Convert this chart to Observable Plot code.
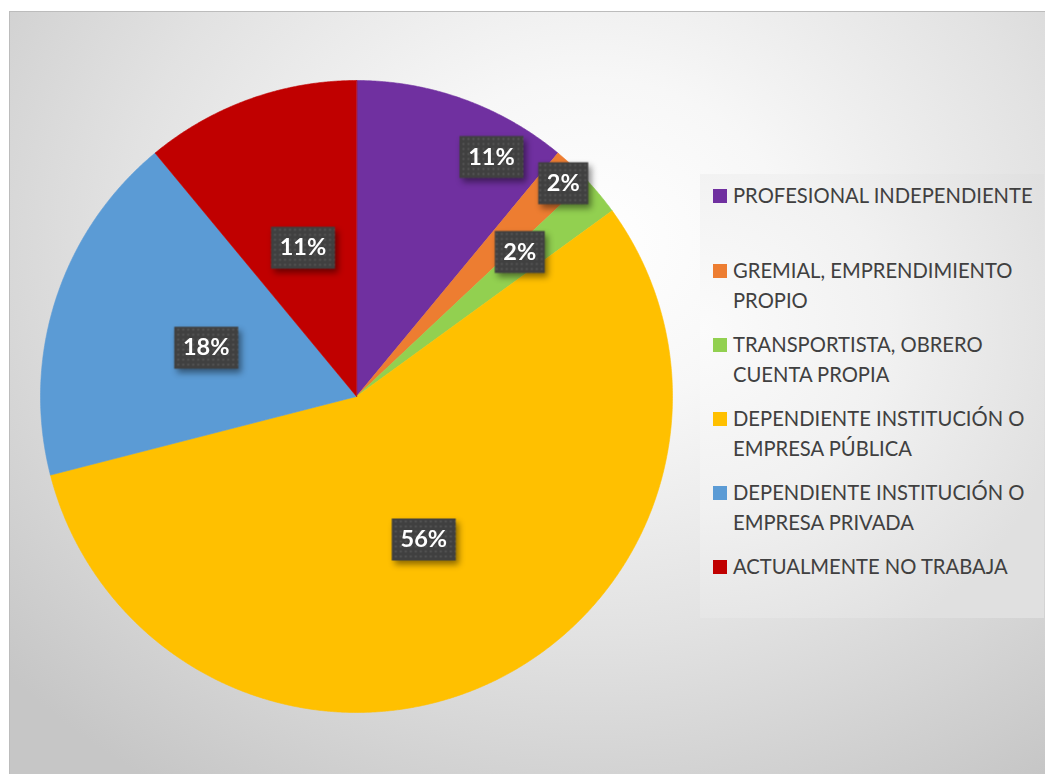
<!DOCTYPE html>
<html>
<head>
<meta charset="utf-8">
<script src="https://cdn.jsdelivr.net/npm/d3@7"></script>
<script src="https://cdn.jsdelivr.net/npm/@observablehq/plot@0.6"></script>
<style>
  html, body { margin: 0; padding: 0; background: #fff; width: 1045px; height: 774px; overflow: hidden; }
  #frame {
    position: absolute; left: 9px; top: 11px; width: 1040px; height: 770px;
    box-sizing: border-box; border: 1px solid #bcbcbc;
    background: radial-gradient(ellipse 75% 85% at 56% 30%, #ffffff 0%, #f7f7f7 25%, #e2e2e2 60%, #c6c6c6 100%);
  }
  #pie { position: absolute; left: 35.5px; top: 76px; }
  #legend {
    position: absolute; left: 700px; top: 174px; width: 344px; height: 444px;
    background: radial-gradient(ellipse 110% 80% at 0% 35%, #fbfbfb 0%, #f1f1f1 50%, #e0e0e0 100%);
    font-family: Lato, "Open Sans", sans-serif; font-size: 20.2px; color: #404040;
  }
  .item { position: absolute; left: 33px; line-height: 30px; }
  .sw { position: absolute; left: -20px; top: 9px; width: 14px; height: 14px; }
</style>
</head>
<body>
<svg width="0" height="0" style="position:absolute">
  <defs>
    <pattern id="dots" width="5" height="5" patternUnits="userSpaceOnUse">
      <rect width="5" height="5" fill="#404040"></rect>
      <rect x="1" y="1" width="2" height="2" fill="#555555"></rect>
    </pattern>
  </defs>
</svg>
<div id="frame">
</div>
<div id="pie"></div>
<div id="legend"></div>
<script>
// ---- data ----
const categories = [
  "PROFESIONAL INDEPENDIENTE",
  "GREMIAL, EMPRENDIMIENTO PROPIO",
  "TRANSPORTISTA, OBRERO CUENTA PROPIA",
  "DEPENDIENTE INSTITUCIÓN O EMPRESA PÚBLICA",
  "DEPENDIENTE INSTITUCIÓN O EMPRESA PRIVADA",
  "ACTUALMENTE NO TRABAJA"
];
const values = [11, 2, 2, 56, 18, 11];
const labels = ["11%", "2%", "2%", "56%", "18%", "11%"];
const legendLines = [
  ["PROFESIONAL INDEPENDIENTE"],
  ["GREMIAL, EMPRENDIMIENTO", "PROPIO"],
  ["TRANSPORTISTA, OBRERO", "CUENTA PROPIA"],
  ["DEPENDIENTE INSTITUCIÓN O", "EMPRESA PÚBLICA"],
  ["DEPENDIENTE INSTITUCIÓN O", "EMPRESA PRIVADA"],
  ["ACTUALMENTE NO TRABAJA"]
];
const colors = ["#7030A0", "#ED7D31", "#92D050", "#FFC000", "#5B9BD5", "#C00000"];

// ---- layout (label placement: angle in degrees clockwise from top, radius fraction) ----
const labelPlacement = [
  {angle: 29.4, r: 0.87},
  {angle: 44.1, r: 0.94},
  {angle: 48.5, r: 0.69},
  null, null, null
];
const legendTops = [6, 81, 155, 229, 303, 377];

// ---- geometry ----
const arcs = d3.pie().sort(null).value(d => d)(values);
const slicePts = [];
arcs.forEach((a, i) => {
  slicePts.push({cat: categories[i], x: 0, y: 0});
  const n = Math.max(2, Math.ceil((a.endAngle - a.startAngle) / 0.005));
  for (let k = 0; k <= n; k++) {
    const t = a.startAngle + (a.endAngle - a.startAngle) * k / n;
    slicePts.push({cat: categories[i], x: Math.sin(t), y: Math.cos(t)});
  }
});
const labelData = arcs.map((a, i) => {
  const p = labelPlacement[i];
  const ang = p ? p.angle * Math.PI / 180 : (a.startAngle + a.endAngle) / 2;
  const rr = p ? p.r : 0.5;
  return {label: labels[i], x: rr * Math.sin(ang), y: rr * Math.cos(ang), hw: 7 * labels[i].length + 11};
});

const boxSymbol = {
  draw(ctx, size) {
    const hw = Math.sqrt(size / Math.PI);
    ctx.moveTo(-hw, -21); ctx.lineTo(hw, -21); ctx.lineTo(hw, 21); ctx.lineTo(-hw, 21); ctx.closePath();
  }
};

const W = 640;
const plot = Plot.plot({
  width: W, height: W,
  margin: 4,
  x: {domain: [-1, 1], axis: null},
  y: {domain: [-1, 1], axis: null},
  r: {type: "identity"},
  color: {domain: categories, range: colors},
  style: {background: "transparent", overflow: "visible"},
  marks: [
    Plot.line(slicePts, {x: "x", y: "y", z: "cat", fill: "cat", stroke: "cat", strokeWidth: 0.6, curve: "linear-closed"}),
    Plot.dot(labelData, {x: "x", y: "y", r: "hw", symbol: boxSymbol, fill: "url(#dots)", stroke: "none"}),
    Plot.text(labelData, {x: "x", y: "y", text: "label", fill: "white", fontSize: 23.5, fontWeight: "bold", fontFamily: "Lato, 'Open Sans', sans-serif"})
  ]
});
d3.select(plot).select('g[aria-label="dot"]').style("filter", "drop-shadow(3px 4px 3px rgba(0,0,0,0.45))");
document.getElementById("pie").appendChild(plot);

// ---- legend ----
const leg = d3.select("#legend");
legendLines.forEach((lines, i) => {
  const it = leg.append("div").attr("class", "item").style("top", legendTops[i] + "px");
  it.append("div").attr("class", "sw").style("background", colors[i]);
  it.append("div").html(lines.join("<br>"));
});
</script>
</body>
</html>
